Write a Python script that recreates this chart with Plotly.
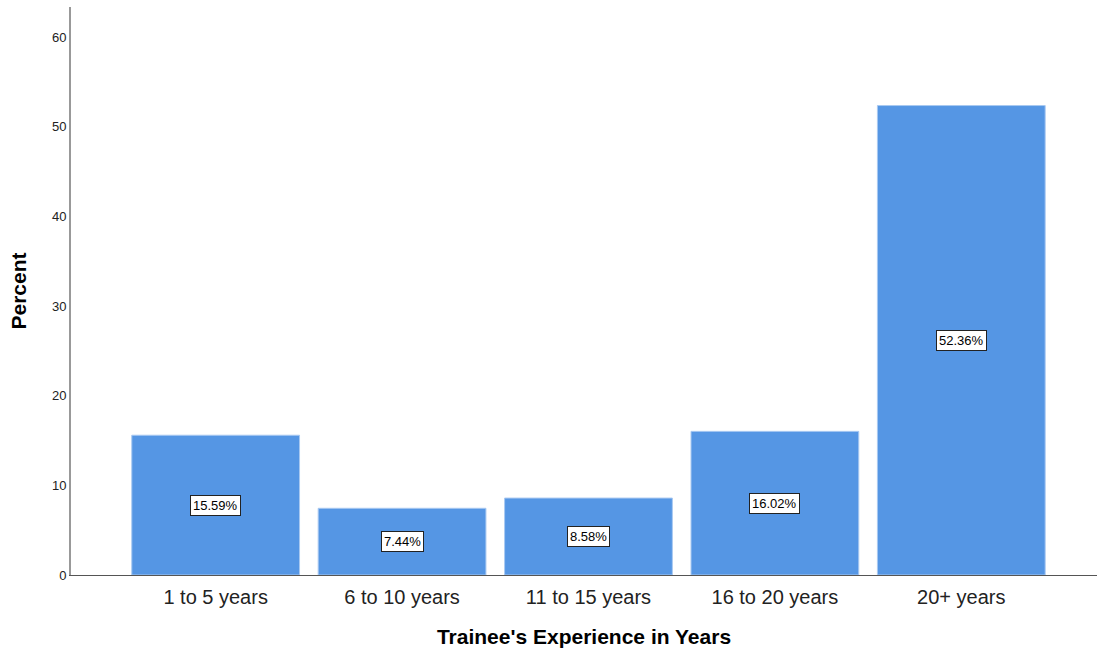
import plotly.graph_objects as go

categories = ["1 to 5 years", "6 to 10 years", "11 to 15 years", "16 to 20 years", "20+ years"]
percent = [15.59, 7.44, 8.58, 16.02, 52.36]
labels = ["15.59%", "7.44%", "8.58%", "16.02%", "52.36%"]
y_ticks = [0, 10, 20, 30, 40, 50, 60]

xs = list(range(len(categories)))

fig = go.Figure(go.Bar(
    x=xs, y=percent, width=0.9,
    marker=dict(color="#5596e4", line=dict(color="#a9c9f1", width=1)),
    hoverinfo="skip",
))

for x, v, t in zip(xs, percent, labels):
    fig.add_annotation(x=x, y=v / 2, text=t, showarrow=False,
                       bgcolor="white", bordercolor="#222", borderwidth=1, borderpad=2,
                       font=dict(family="Arial, Liberation Sans", size=13, color="black"))

fig.update_layout(
    width=1097, height=650,
    margin=dict(l=71, r=0, t=7, b=75),
    paper_bgcolor="white", plot_bgcolor="white",
    showlegend=False,
    font=dict(family="Arial, Liberation Sans", color="black"),
    xaxis=dict(range=[-0.776, 4.728], tickvals=xs, ticktext=categories,
               showgrid=False, zeroline=False, showline=True, linecolor="#555", linewidth=1,
               ticks="", ticklabelstandoff=4, tickfont=dict(size=20, color="#222"),
               title=dict(text="<b>Trainee's Experience in Years</b>", font=dict(size=21), standoff=22)),
    yaxis=dict(range=[0, 63.35], tickvals=y_ticks, showgrid=False, zeroline=False,
               showline=True, linecolor="#999", linewidth=2, ticks="",
               tickfont=dict(size=13, color="#222"),
               title=dict(text="<b>Percent</b>", font=dict(size=21), standoff=20)),
)

fig.write_html("out.html", config={"displayModeBar": False},
               post_script="document.body.style.margin='0';")
